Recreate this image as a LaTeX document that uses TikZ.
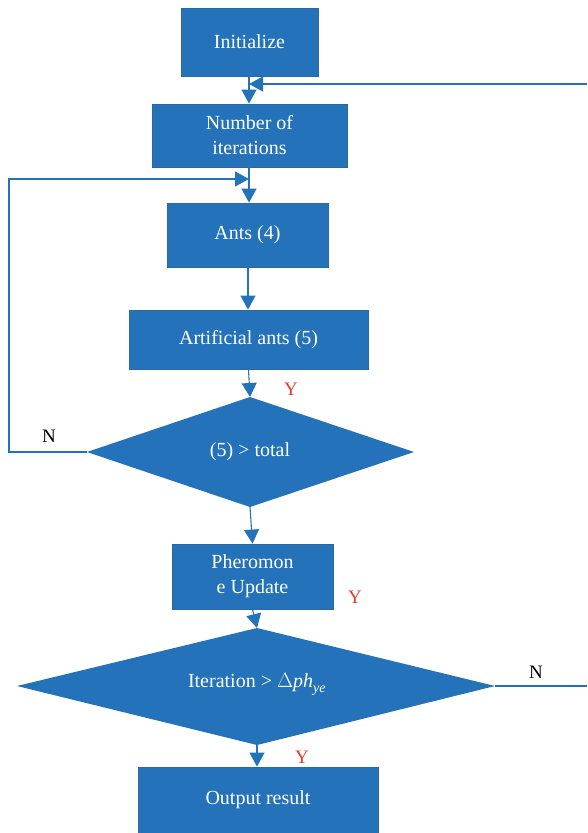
\documentclass[tikz,border=0pt]{standalone}
\usepackage{fontspec}
\setmainfont{Liberation Serif}
\usetikzlibrary{arrows.meta,shapes.geometric}
\definecolor{boxblue}{RGB}{35,114,186}
\definecolor{edgeblue}{RGB}{46,104,160}
\definecolor{ylab}{RGB}{230,60,40}
\tikzset{
  proc/.style={draw=edgeblue,line width=0.8pt,fill=boxblue,text=white,font=\fontsize{20}{25}\selectfont,align=center,inner sep=0pt},
  dec/.style={draw=none,fill=boxblue,text=white,font=\fontsize{20}{25}\selectfont},
  conn/.style={draw=boxblue,line width=1.1pt},
  arr/.style={conn,-{Triangle[width=15pt,length=14pt]}},
  lab/.style={font=\fontsize{19}{23}\selectfont}
}
\begin{document}
\begin{tikzpicture}[x=1pt,y=-1pt]
\useasboundingbox (0,0) rectangle (587,833);
\node[proc,minimum width=137pt,minimum height=68pt] (init) at (249.5,42) {Initialize};
\node[proc,minimum width=195pt,minimum height=63pt] (num) at (249.5,135.5) {Number of\\iterations};
\node[proc,minimum width=161pt,minimum height=64pt] (ants) at (247.5,235) {Ants (4)};
\node[proc,minimum width=239pt,minimum height=59pt] (art) at (248.5,339.5) {Artificial ants (5)};
\fill[boxblue] (87,452) coordinate (d1w) -- (250,397) coordinate (d1n) -- (414,452) coordinate (d1e) -- (250,507) coordinate (d1s) -- cycle;
\node[dec] (d1) at (250,452) {(5) > total};
\node[proc,minimum width=161pt,minimum height=65pt] (pher) at (252.5,576.5) {Pheromon\\e Update};
\fill[boxblue] (17,686) coordinate (d2w) -- (257,628) coordinate (d2n) -- (495,686) coordinate (d2e) -- (257,745) coordinate (d2s) -- cycle;
\node[dec] (d2) at (257,684) {Iteration > $\Delta\mathit{ph}_{\mathit{ye}}$};
\node[proc,minimum width=240pt,minimum height=66pt] (out) at (258,800) {Output result};
% connectors
\coordinate (rtop) at (587,84);
\coordinate (rtopend) at (249,84);
\draw[arr] (init.south -| 249,0) -- (num.north -| 249,0);
\draw[arr] (rtop) -- (rtopend);
\coordinate (lpA) at (9,452);
\coordinate (lpB) at (9,179);
\coordinate (lpC) at (249,179);
\draw[arr] (num.south -| 249,0) -- (ants.north -| 249,0);
\draw[arr] (d1w) -- (lpA) -- (lpB) -- (lpC);
\draw[arr] (ants.south -| 248,0) -- (art.north -| 248,0);
\draw[arr] (art.south) -- (d1n);
\draw[arr] (d1s) -- (pher.north);
\draw[arr] (pher.south) -- (d2n);
\coordinate (rbot) at (587,686);
\draw[conn] (d2e) -- (rbot);
\draw[arr] (d2s) -- (out.north -| d2s);
% labels
\node[lab,text=ylab] (y1) at (291,389) {Y};
\node[lab] (n1) at (49,436) {N};
\node[lab,text=ylab] (y2) at (355,597) {Y};
\node[lab] (n2) at (536,672) {N};
\node[lab,text=ylab] (y3) at (302,757) {Y};
\end{tikzpicture}
\end{document}
